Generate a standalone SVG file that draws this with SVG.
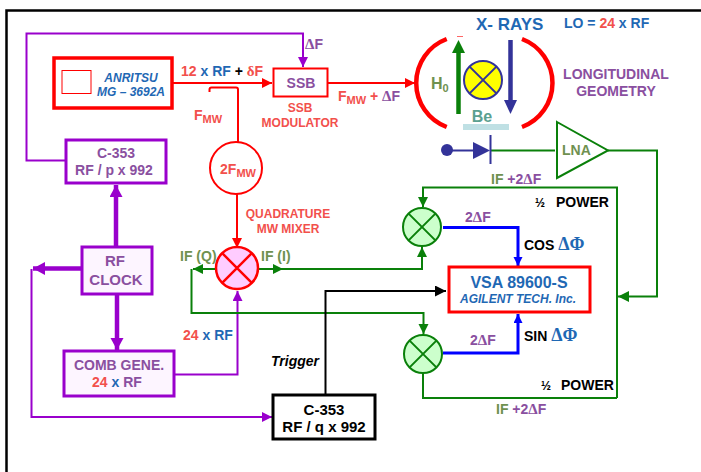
<svg xmlns="http://www.w3.org/2000/svg" width="701" height="472" viewBox="0 0 701 472">
<style>
text{font-family:"Liberation Sans",Arial,sans-serif;font-weight:700;font-size:14px}
.m{text-anchor:middle}
.pu{fill:#8a4fa0}.bl{fill:#1f68b4}.sa{fill:#f2504c}.ol{fill:#6f9150}.bk{fill:#000}
.sym{font-family:"Liberation Serif","DejaVu Serif",serif;font-size:15px}
.sym2{font-family:"Liberation Serif","DejaVu Serif",serif;font-size:18px}
.sub{font-size:11px}
.half{font-size:12px}
.it{font-style:italic}
.s12{font-size:12px}
.s15{font-size:15px}
.s16{font-size:16px}
.s17{font-size:17px}
.ln{fill:none;stroke-linejoin:miter}
.r{stroke:#f00}.p{stroke:#90c}.g{stroke:#0a800a}.b{stroke:#00f}.k{stroke:#000}.n{stroke:#339}
.w2{stroke-width:2}.w3{stroke-width:3}.w4{stroke-width:4.500}
</style>
<defs>
<marker id="aR" markerUnits="userSpaceOnUse" markerWidth="12" markerHeight="12" refX="10" refY="5" orient="auto"><path d="M0 0L10 5L0 10z" fill="#f00"/></marker>
<marker id="aP" markerUnits="userSpaceOnUse" markerWidth="12" markerHeight="12" refX="10" refY="5" orient="auto"><path d="M0 0L10 5L0 10z" fill="#90c"/></marker>
<marker id="aPb" markerUnits="userSpaceOnUse" markerWidth="14" markerHeight="14" refX="12" refY="6.500" orient="auto"><path d="M0 0L12 6.500L0 13z" fill="#90c"/></marker>
<marker id="aG" markerUnits="userSpaceOnUse" markerWidth="12" markerHeight="12" refX="10" refY="5" orient="auto"><path d="M0 0L10 5L0 10z" fill="#0a800a"/></marker>
<marker id="aB" markerUnits="userSpaceOnUse" markerWidth="12" markerHeight="12" refX="9" refY="4.500" orient="auto"><path d="M0 0L9 4.500L0 9z" fill="#00f"/></marker>
<marker id="aK" markerUnits="userSpaceOnUse" markerWidth="13" markerHeight="13" refX="11" refY="5.500" orient="auto"><path d="M0 0L11 5.500L0 11z" fill="#000"/></marker>
<marker id="aGb" markerUnits="userSpaceOnUse" markerWidth="15" markerHeight="15" refX="11" refY="5.500" orient="auto"><path d="M0 0L11 5.500L0 11z" fill="#0a800a"/></marker>
</defs>
<rect width="701" height="472" fill="#fff"/>
<path d="M6.500 472V10.500H701" fill="none" stroke="#000" stroke-width="2.500"/>

<g id="connectors">
<path class="ln p w2" d="M66 160.500H26.500V33.500H303V67" marker-end="url(#aP)"/>
<path class="ln r w2" d="M172 83H272" marker-end="url(#aR)"/>
<path class="ln r w2" d="M209.500 92V89.500Q209.500 87.500 211.500 87.500H236Q238 87.500 238 89.500V142"/>
<path class="ln r w2" d="M237 194V248" marker-end="url(#aR)"/>
<path class="ln r w2" d="M328 83H415" marker-end="url(#aR)"/>
<path class="ln p w4" d="M116 247V185" marker-end="url(#aPb)"/>
<path class="ln p w4" d="M117 294V350" marker-end="url(#aPb)"/>
<path class="ln p w4" d="M82 268.500H33" marker-end="url(#aPb)"/>
<path class="ln p w2" d="M31.500 269V417H272" marker-end="url(#aP)"/>
<path class="ln p w2" d="M174 374.500H237.500V291" marker-end="url(#aP)"/>
<path class="ln g w2" d="M258 269H283" marker-end="url(#aG)"/>
<path class="ln g w2" d="M278 269H422V247" marker-end="url(#aG)"/>
<path class="ln g w2" d="M216 269H193" marker-end="url(#aG)"/>
<path class="ln g w2" d="M191.500 269V313H423.500V334" marker-end="url(#aG)"/>
<path class="ln k w2" d="M325.500 395V291H446" marker-end="url(#aK)"/>
<path class="ln g w2" d="M491 150.500H555"/>
<path class="ln g w2" d="M608 150.500H657V296.500H618" marker-end="url(#aGb)"/>
<path class="ln g w2" d="M617 398V187.500H423V207" marker-end="url(#aG)"/>
<path class="ln g w2" d="M423 373V398H617"/>
<path class="ln b w3" d="M443 227.500H518V266" marker-end="url(#aB)"/>
<path class="ln b w3" d="M443 353H518V314" marker-end="url(#aB)"/>
</g>

<g id="anritsu">
<rect x="54" y="58" width="118" height="50" fill="#fff" stroke="#f00" stroke-width="3.500"/>
<rect x="62" y="70.500" width="29" height="23" fill="#fff" stroke="#f00" stroke-width="1"/>
<text class="m bl it s12" x="131" y="82">ANRITSU</text>
<text class="m bl it s12" x="131" y="96">MG – 3692A</text>
</g>
<text x="181" y="76"><tspan class="sa">12</tspan><tspan class="bl"> x RF</tspan><tspan class="bk"> + </tspan><tspan class="sa sym">δ</tspan><tspan class="sa">F</tspan></text>
<text class="pu" x="305" y="49"><tspan class="sym">Δ</tspan>F</text>

<g id="ssb">
<rect x="273.500" y="68.500" width="54" height="28" fill="#fff" stroke="#f00" stroke-width="2"/>
<text class="m pu" x="301" y="88">SSB</text>
<text class="m sa s12" x="300" y="112">SSB</text>
<text class="m sa s12" x="300" y="127">MODULATOR</text>
</g>
<text class="sa" x="194" y="120">F<tspan class="sub" dy="3">MW</tspan></text>

<g id="c353p">
<rect x="66" y="140" width="100" height="43" fill="#fff" stroke="#90c" stroke-width="3"/>
<text class="m pu" x="116" y="158">C-353</text>
<text class="m pu" x="114" y="175">RF / p x 992</text>
</g>

<g id="twofmw">
<circle cx="236" cy="168" r="26" fill="#fff" stroke="#f00" stroke-width="2"/>
<text class="m sa" x="238" y="174">2F<tspan class="sub" dy="3">MW</tspan></text>
</g>
<text class="m sa s12" x="288" y="218">QUADRATURE</text>
<text class="m sa s12" x="288" y="233">MW MIXER</text>

<g id="mixer-q">
<circle cx="237" cy="268" r="21" fill="#fcf" stroke="#f00" stroke-width="2.500"/>
<path d="M222.200 253.200L251.800 282.800M222.200 282.800L251.800 253.200" stroke="#f00" stroke-width="2.500"/>
</g>
<text class="ol" x="180" y="261">IF (Q)</text>
<text class="ol" x="261" y="261">IF (I)</text>

<text x="338" y="101"><tspan class="sa">F</tspan><tspan class="sa sub" dy="3">MW</tspan><tspan class="sa" dy="-3"> + </tspan><tspan class="pu sym">Δ</tspan><tspan class="pu">F</tspan></text>

<g id="geometry">
<path d="M446.700 39A47 47 0 0 0 446.700 127M522 39A47 47 0 0 1 522 127" fill="none" stroke="#f00" stroke-width="4.500"/>
<path d="M457 36.500H463" stroke="#f66" stroke-width="1"/>
<path class="ln w4" d="M458.500 114V50" stroke="#0a800a"/>
<path d="M458.500 40L465 53H452z" fill="#0a800a"/>
<path class="ln w4" d="M510.500 40V103" stroke="#339"/>
<path d="M510.500 114L504 100H517z" fill="#339"/>
<circle cx="483" cy="80" r="19" fill="#ff0" stroke="#339" stroke-width="2"/>
<path d="M469.600 66.600L496.400 93.400M469.600 93.400L496.400 66.600" stroke="#339" stroke-width="2"/>
<rect x="463" y="124" width="46" height="6" fill="#bfe0e4"/>
<text class="m s16" fill="#5aa090" x="482" y="122">Be</text>
<text class="ol s16" x="431" y="89">H<tspan class="sub" dy="3">0</tspan></text>
</g>
<text class="bl s17" x="476" y="30">X- RAYS</text>
<text x="564" y="28"><tspan class="bl">LO = </tspan><tspan class="sa">24</tspan><tspan class="bl"> x RF</tspan></text>
<text class="m pu" x="616" y="79">LONGITUDINAL</text>
<text class="m pu" x="616" y="96">GEOMETRY</text>

<g id="diode">
<circle cx="447" cy="150" r="6" fill="#339"/>
<path d="M447 150.500H474" stroke="#339" stroke-width="2"/>
<path d="M473 142L490 150.500L473 159z" fill="#339"/>
<path d="M490.500 135V164" stroke="#339" stroke-width="2"/>
</g>
<g id="lna">
<path d="M557 122L608 150.500L557 178z" fill="#fff" stroke="#0a800a" stroke-width="2"/>
<text class="ol" x="562" y="155">LNA</text>
</g>
<text x="491" y="184"><tspan class="ol">IF </tspan><tspan class="pu">+2</tspan><tspan class="pu sym">Δ</tspan><tspan class="pu">F</tspan></text>
<text class="bk" x="535" y="207"><tspan class="half">½</tspan><tspan x="556">POWER</tspan></text>

<g id="mixer-i">
<circle cx="422" cy="227" r="19" fill="#cfc" stroke="#0a800a" stroke-width="2"/>
<path d="M408.600 213.600L435.400 240.400M408.600 240.400L435.400 213.600" stroke="#0a800a" stroke-width="2"/>
</g>
<text class="pu" x="465" y="222">2<tspan class="sym">Δ</tspan>F</text>
<text x="524" y="250"><tspan class="bk">COS </tspan><tspan class="bl sym2">ΔΦ</tspan></text>

<g id="vsa">
<rect x="449" y="267" width="141" height="45" fill="#fff" stroke="#f00" stroke-width="3"/>
<text class="m bl s16" x="519" y="288">VSA 89600-S</text>
<text class="m bl it s12" x="518" y="303">AGILENT TECH. Inc.</text>
</g>
<text x="524" y="341"><tspan class="bk">SIN </tspan><tspan class="bl sym2">ΔΦ</tspan></text>

<g id="mixer-s">
<circle cx="423" cy="354" r="19" fill="#cfc" stroke="#0a800a" stroke-width="2"/>
<path d="M409.600 340.600L436.400 367.400M409.600 367.400L436.400 340.600" stroke="#0a800a" stroke-width="2"/>
</g>
<text class="pu" x="470" y="345">2<tspan class="sym">Δ</tspan>F</text>
<text class="bk" x="541" y="390"><tspan class="half">½</tspan><tspan x="561">POWER</tspan></text>
<text x="496" y="414"><tspan class="ol">IF </tspan><tspan class="pu">+2</tspan><tspan class="pu sym">Δ</tspan><tspan class="pu">F</tspan></text>

<g id="rfclock">
<rect x="82" y="247" width="70" height="47" fill="#fdf5ff" stroke="#90c" stroke-width="3"/>
<text class="m pu s15" x="115" y="266">RF</text>
<text class="m pu s15" x="116" y="285">CLOCK</text>
</g>
<g id="comb">
<rect x="64" y="351" width="110" height="45" fill="#fdf5ff" stroke="#90c" stroke-width="3"/>
<text class="m pu" x="119" y="370">COMB GENE.</text>
<text class="m" x="117" y="387"><tspan class="sa">24</tspan><tspan class="bl"> x </tspan><tspan class="pu">RF</tspan></text>
</g>
<text x="183" y="340"><tspan class="sa">24</tspan><tspan class="bl"> x RF</tspan></text>
<text class="bk it" x="271" y="366">Trigger</text>

<g id="c353q">
<rect x="273" y="395" width="102" height="44" fill="#fff" stroke="#000" stroke-width="3"/>
<text class="m bk s15" x="324" y="415">C-353</text>
<text class="m bk s15" x="324" y="432">RF / q x 992</text>
</g>
</svg>
